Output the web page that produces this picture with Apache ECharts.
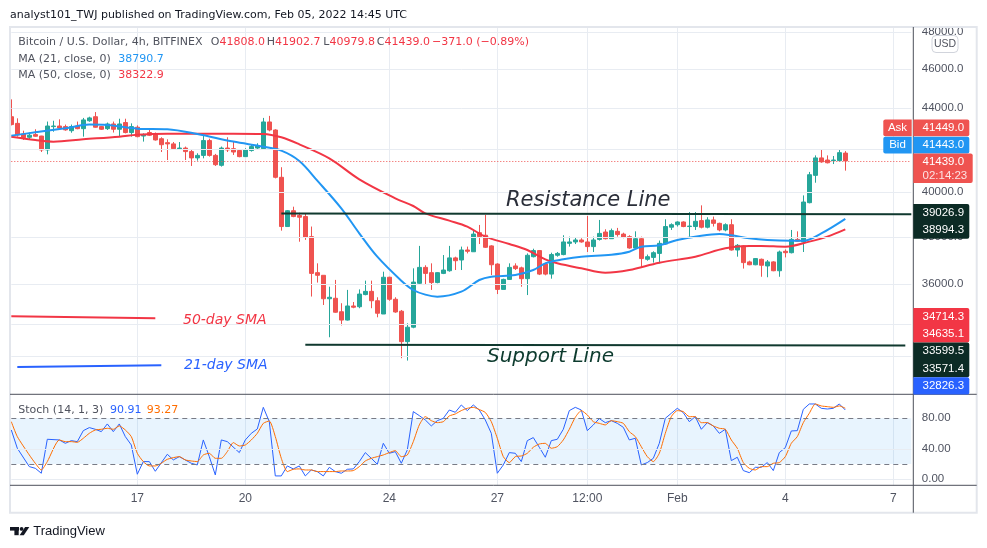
<!DOCTYPE html>
<html><head><meta charset="utf-8">
<script src="https://cdn.jsdelivr.net/npm/echarts/dist/echarts.min.js"></script>
<style>html,body{margin:0;padding:0;background:#fff}#c{width:987px;height:548px}</style>
</head><body><div id="c"></div>
<script>
// ---------- DATA ----------
// 4h candles, first one = 2022-01-13 12:00 UTC (index 0)
const candleCount = 151; // slots on the time axis (incl. empty future)
const tickIndex = [21, 39, 63, 81, 96, 111, 129, 147];
const tickText  = ['17', '20', '24', '27', '12:00', 'Feb', '4', '7'];
// [open, close, low, high]
const candles = [
[43580,43190,43150,44450],[43250,42680,42600,43500],[42730,42550,42440,42890],[42570,42670,42440,42800],
[42700,42620,42600,42960],[42630,41960,41860,42640],[41960,43120,41750,43340],[43090,43120,42840,43380],
[43120,43020,42960,43450],[43090,42930,42890,43190],[42890,43090,42790,43190],[43120,42990,42960,43340],
[42990,43420,42600,43520],[43380,43520,43330,43580],[43580,43060,43040,43810],[43090,42960,42925,43120],
[42990,43220,42925,43290],[43220,42960,42800,43340],[42960,43220,42600,43480],[43290,42800,42760,43480],
[42800,43090,42600,43250],[43060,42600,42570,43150],[42630,42700,42360,42760],[42800,42670,42630,42930],
[42730,42440,42410,42800],[42500,42210,41860,42570],[42310,42250,41480,42470],[42250,42020,41990,42340],
[42020,42050,41960,42340],[42050,41880,41480,42120],[41880,41580,41200,41990],[41580,41700,41450,41800],
[41700,42410,41560,42630],[42410,41700,41640,42500],[41700,41260,41200,41770],[41230,42050,41170,42120],
[42050,41960,41860,42570],[42020,41860,41720,42360],[41930,41640,41610,41990],[41640,41960,41640,42040],
[41930,42120,41880,42200],[42050,42150,41990,42280],[42020,43320,41990,43520],[43320,42925,42860,43620],
[42925,40670,40620,42960],[40670,38450,38270,41140],[38450,39150,38440,39180],[39150,38890,38860,39330],
[38940,38860,37790,39060],[38890,37980,37870,39030],[38010,36450,35500,38450],[36480,36370,36070,36870],
[36370,35410,35160,36370],[35410,35470,33890,35900],[35430,34870,34850,36180],[34890,34560,34350,35230],
[34560,35120,34540,35770],[35120,35070,35030,35280],[35090,35600,35030,35790],[35580,35710,35550,36150],
[35710,35330,35030,36150],[35330,34830,34670,35470],[34800,36290,34800,36520],[36290,35390,35330,36310],
[35390,34880,34850,35470],[34910,33720,33090,34960],[33720,34280,33000,34430],[34280,36090,34240,36660],
[36040,36700,36010,37610],[36700,36450,36010,36790],[36480,36070,35770,36870],[36070,36480,36040,36500],
[36450,36590,36420,37220],[36560,37100,36520,37610],[37100,36980,36590,37150],[37010,37435,36590,37580],
[37435,37380,37290,37580],[37360,38120,37350,38270],[38180,38010,37690,38520],[38070,37550,37520,38960],
[37610,36810,36380,37640],[36840,35790,35600,36870],[35790,36200,35790,36230],[36200,36700,36180,36870],
[36760,36650,36590,36870],[36680,36230,35900,36730],[36230,37210,35560,37290],[37150,37410,37120,37490],
[37410,36420,36380,37435],[36840,36420,36370,36900],[36420,37240,36230,37320],[37210,37290,37150,37350],
[37240,37780,37210,38070],[37720,37780,37580,38010],[37780,37865,37690,37990],[37865,37780,37750,37940],
[37780,37580,37350,38920],[37580,37865,37350,38010],[37890,38150,37840,38740],[38210,37920,37890,38330],
[37920,38270,37920,38360],[38240,38100,38010,38390],[38120,37980,37940,38180],[38010,37520,37490,38070],
[37520,37920,37490,38240],[37920,37070,36700,38010],[37040,37150,36980,37240],[37120,37320,36900,37380],
[37290,37720,36870,37840],[37690,38450,37660,38770],[38420,38530,38300,38590],[38530,38650,38450,38680],
[38650,38450,38420,38680],[38450,38470,38010,39090],[38450,38680,38300,39090],[38710,38420,38370,39390],
[38420,38740,38370,38860],[38740,38590,38450,38890],[38590,38300,38240,38620],[38300,38530,38240,38590],
[38530,37435,37410,38770],[37435,37635,37150,37690],[37610,36900,36650,37640],[36930,36810,36790,36980],
[36810,37070,36790,37090],[37040,36790,36310,37070],[36760,36930,36290,37010],[36930,36560,36540,36960],
[36560,37350,36310,37410],[37380,37320,37120,37460],[37320,37890,37290,38300],[37890,37810,37780,38240],
[37780,39540,37350,39840],[39510,40790,39480,40920],[40760,41580,40420,41700],[41580,41390,41350,41960],
[41480,41350,41320,41700],[41450,41480,41290,41670],[41450,41830,41420,41960],[41808,41439,40979.8,41902.7]
];
// moving averages: [candle index, value]
const ma21 = [[0,42650],[4,42810],[9,43010],[13,43190],[16,43170],[21,42990],[26,42960],[31,42730],[37,42360],
[42,42117],[45,41925],[48,41433],[51,40515],[55,39256],[58,38153],[61,37151],[65,36149],[67,35766],[69,35576],
[71,35496],[75,35697],[78,36176],[80,36314],[84,36383],[87,36591],[89,36870],[92,37039],[95,37151],[100,37236],
[103,37364],[105,37578],[108,37635],[111,37865],[115,38052],[118,38124],[120,38067],[123,37937],[126,37865],
[130,37836],[132,37836],[135,38153],[139,38790.7]];
const ma50 = [[0,42600],[4,42438],[7,42358],[12,42470],[18,42600],[21,42697],[26,42746],[31,42746],[37,42746],
[42,42730],[45,42567],[48,42229],[53,41560],[58,40577],[64,39707],[67,39361],[69,39034],[73,38709],[76,38445],
[79,38009],[83,37692],[86,37435],[89,37039],[91,36870],[95,36661],[99,36480],[103,36591],[108,36898],
[114,37151],[119,37506],[123,37606],[125,37606],[129,37578],[133,37793],[136,38009],[139,38322.9]];
const stochK = [[0,64.7],[1,40.7],[3,16.6],[4,14.4],[5,7.9],[6,52.5],[8,51.6],[9,47.2],[10,50.7],[11,49.4],[12,63.8],
[13,67.8],[14,65.6],[15,62.5],[16,72.6],[17,62.5],[18,72.6],[19,56.0],[20,45.0],[21,6.6],[22,23.2],[23,23.2],[24,10.5],
[26,32.8],[27,25.4],[28,29.7],[30,21.0],[31,18.8],[32,51.6],[33,29.7],[34,5.7],[35,51.6],[36,49.4],[38,35.0],[39,51.6],
[40,60.3],[41,66.0],[42,94.4],[43,75.6],[44,4.4],[45,4.4],[46,17.5],[47,13.6],[48,17.5],[49,4.4],[50,12.2],[51,10.1],
[52,4.4],[53,15.7],[54,10.1],[55,7.9],[56,13.1],[57,13.6],[58,23.2],[59,35.0],[60,27.5],[61,19.7],[62,47.2],[63,34.1],
[64,36.3],[65,21.0],[66,38.5],[67,88.8],[68,83.5],[69,77.8],[70,70.0],[71,76.9],[72,80.0],[73,90.9],[74,87.9],[75,97.5],
[76,90.1],[77,97.5],[78,90.9],[79,77.8],[80,60.3],[81,7.9],[82,18.8],[83,35.0],[84,34.1],[85,23.2],[86,50.7],[87,54.7],
[88,42.0],[89,28.9],[90,50.7],[91,52.5],[92,65.6],[93,90.1],[94,94.4],[95,90.9],[96,63.8],[97,71.3],[98,79.6],[99,74.3],
[100,76.9],[101,73.4],[102,68.2],[103,51.6],[104,53.8],[105,18.8],[106,21.9],[107,27.5],[108,47.2],[109,80.0],[110,86.6],
[111,93.1],[112,87.4],[113,75.6],[114,82.2],[115,65.6],[116,74.3],[117,70.0],[118,60.3],[119,65.6],[120,24.5],[121,28.9],
[122,11.4],[123,8.7],[124,15.7],[125,15.7],[126,21.9],[127,11.4],[128,35.0],[129,41.5],[130,63.4],[131,63.8],[132,91.8],
[133,98.8],[134,98.8],[135,93.1],[136,92.2],[137,93.1],[138,98.8],[139,90.91]];
const stochD = [[0,75.6],[1,56.0],[3,31.9],[4,21.0],[5,12.2],[6,23.2],[8,51.6],[9,49.4],[10,49.4],[11,48.5],[12,53.8],
[13,60.3],[14,64.7],[15,65.6],[16,66.9],[17,65.6],[18,70.0],[19,64.7],[20,56.0],[21,34.1],[22,23.2],[23,17.5],[24,17.5],
[25,21.0],[26,26.2],[28,29.7],[29,25.4],[30,24.0],[31,23.2],[32,31.9],[33,34.1],[34,27.5],[35,27.5],[36,36.3],[37,48.1],
[38,43.7],[39,45.0],[40,51.6],[41,60.3],[42,73.4],[43,76.5],[44,56.0],[45,27.5],[46,10.1],[47,13.1],[48,13.6],[49,12.2],
[50,12.2],[51,10.1],[52,10.1],[54,10.1],[55,10.9],[56,10.9],[57,11.4],[58,16.6],[59,24.0],[60,27.5],[61,29.7],[62,31.9],
[63,35.0],[64,37.6],[65,29.7],[66,31.9],[67,49.4],[68,71.3],[69,82.2],[70,76.9],[71,74.3],[72,75.6],[73,83.1],[74,85.7],
[75,90.1],[76,93.1],[77,94.4],[78,91.5],[79,87.7],[80,75.6],[81,53.8],[82,29.7],[83,21.9],[84,29.7],[85,30.6],[86,34.1],
[87,42.0],[88,46.3],[89,47.2],[90,40.7],[91,42.8],[92,51.6],[93,65.6],[94,81.3],[95,90.1],[96,84.4],[97,75.6],[98,73.4],
[99,71.3],[100,76.9],[101,75.6],[102,73.4],[103,62.5],[104,56.0],[105,42.8],[106,29.7],[107,23.2],[108,34.1],[109,60.3],
[110,82.2],[111,90.1],[112,88.8],[113,82.2],[114,82.2],[115,74.3],[116,74.3],[117,70.0],[118,66.9],[119,65.6],[120,51.6],
[121,40.7],[122,21.9],[123,14.4],[124,12.2],[125,16.6],[126,16.6],[127,21.0],[128,21.9],[129,29.7],[130,47.2],[131,56.0],
[132,74.3],[133,86.6],[134,98.8],[135,96.2],[136,95.3],[137,94.4],[138,96.2],[139,93.27]];
// price axis grid values (log scale) and which ones carry a label
const priceGrid = [33147, 34395, 36000, 38000, 40000, 42000, 44000, 46000, 48000];
const priceLabelled = [36000, 38000, 40000, 42000, 44000, 46000, 48000];
const stochGrid = [0, 40];
const stochLevels = [20, 80];
const stochLabelled = [0, 40, 80];
// drawings (trend lines): [startIndex, startPrice, endIndex, endPrice]
const resistanceLine = [45, 39026.9, 150, 38994.3];
const supportLine = [49, 33599.5, 149, 33571.4];
const sma50Key = [0, 34714.3, 24, 34635.1];
const sma21Key = [1, 32760, 25, 32826.3];
const lastPrice = 41439.0;

// ---------- CHART ----------
const categories = [];
const t0 = Date.UTC(2022, 0, 13, 12);
for (let i = 0; i < candleCount; i++) {
  categories.push(new Date(t0 + i * 4 * 3600e3).toISOString().slice(0, 16).replace('T', ' '));
}
const tickMap = {}; tickIndex.forEach((k, j) => tickMap[k] = tickText[j]);
const isTick = (i) => tickMap[i] !== undefined;

const gridColor = '#e8ecf2';
const axisText = '#4f5360';
const UP = '#26a69a', DOWN = '#ef5350';
const AX_FONT = '"Liberation Sans", Arial, sans-serif';
const TV_FONT = '"DejaVu Sans", Verdana, sans-serif';

const chart = echarts.init(document.getElementById('c'), null, {renderer: 'canvas'});

function seg(d, color, width) {
  return [{coord: [d[0], d[1]], lineStyle: {color, width, type: 'solid'}},
          {coord: [d[2], d[3]], lineStyle: {color, width, type: 'solid'}}];
}

const option = {
  animation: false,
  backgroundColor: '#ffffff',
  grid: [
    {left: 11.3, width: 900, top: 27, height: 367.3},
    {left: 11.3, width: 900, top: 394.3, height: 91}
  ],
  xAxis: [
    {type: 'category', gridIndex: 0, data: categories, boundaryGap: false,
     axisLine: {show: false}, axisTick: {show: false}, axisLabel: {show: false},
     splitLine: {show: true, interval: (i) => isTick(i), lineStyle: {color: gridColor, width: 1}}},
    {type: 'category', gridIndex: 1, data: categories, boundaryGap: false,
     axisLine: {show: false}, axisTick: {show: false},
     axisLabel: {show: true, interval: (i) => isTick(i), formatter: (v, i) => tickMap[i] || '',
                 margin: 7, color: axisText, fontSize: 12, fontFamily: AX_FONT},
     splitLine: {show: true, interval: (i) => isTick(i), lineStyle: {color: gridColor, width: 1}}}
  ],
  yAxis: [
    {type: 'log', logBase: 10, gridIndex: 0, min: 31755, max: 48274, position: 'right',
     axisLine: {show: false}, axisTick: {show: false}, axisLabel: {show: false}, splitLine: {show: false}},
    {type: 'value', gridIndex: 1, min: -7.9, max: 111.5, position: 'right',
     axisLine: {show: false}, axisTick: {show: false}, axisLabel: {show: false}, splitLine: {show: false}}
  ],
  series: [
    { // price grid lines + price labels
      type: 'line', xAxisIndex: 0, yAxisIndex: 0, data: [], z: 1, silent: true,
      markLine: {
        silent: true, symbol: ['none', 'none'], animation: false,
        lineStyle: {color: gridColor, width: 1, type: 'solid'},
        label: {show: true, position: 'end', distance: 10.5, color: axisText, fontSize: 11.5, fontFamily: AX_FONT},
        data: priceGrid.map(v => ({yAxis: v, label: {formatter: priceLabelled.includes(v) ? v.toFixed(1) : ''}}))
      }
    },
    {
      type: 'candlestick', xAxisIndex: 0, yAxisIndex: 0, data: candles, barWidth: 4, z: 3,
      itemStyle: {color: UP, color0: DOWN, borderColor: UP, borderColor0: DOWN, borderWidth: 1},
      markLine: {
        silent: true, symbol: ['none', 'none'], animation: false, label: {show: false},
        data: [
          [{yAxis: lastPrice, lineStyle: {color: DOWN, width: 1, type: [1, 2]}},
           {yAxis: lastPrice, x: 911.3, lineStyle: {color: DOWN, width: 1, type: [1, 2]}}].slice(0, 1)[0],
          seg(resistanceLine, '#10392f', 2),
          seg(supportLine, '#10392f', 2),
          seg(sma50Key, '#f23645', 2),
          seg(sma21Key, '#2962ff', 2)
        ]
      }
    },
    {type: 'line', name: 'MA50', xAxisIndex: 0, yAxisIndex: 0, data: ma50, smooth: 0.35, showSymbol: false,
     lineStyle: {color: '#f23645', width: 2}, z: 4},
    {type: 'line', name: 'MA21', xAxisIndex: 0, yAxisIndex: 0, data: ma21, smooth: 0.35, showSymbol: false,
     lineStyle: {color: '#2196f3', width: 2}, z: 4},
    { // stoch pane grid, levels, band, labels
      type: 'line', xAxisIndex: 1, yAxisIndex: 1, data: [], z: 1, silent: true,
      markArea: {silent: true, itemStyle: {color: 'rgba(33,150,243,0.1)'},
                 data: [[{yAxis: stochLevels[0]}, {yAxis: stochLevels[1]}]]},
      markLine: {
        silent: true, symbol: ['none', 'none'], animation: false,
        label: {show: true, position: 'end', distance: 10.5, color: axisText, fontSize: 11.5, fontFamily: AX_FONT},
        data: stochGrid.map(v => ({yAxis: v, lineStyle: {color: gridColor, width: 1, type: 'solid'},
                                   label: {formatter: stochLabelled.includes(v) ? v.toFixed(2) : ''}}))
          .concat(stochLevels.map(v => ({yAxis: v, lineStyle: {color: '#787b86', width: 1, type: [5, 4]},
                                   label: {formatter: stochLabelled.includes(v) ? v.toFixed(2) : ''}})))
      }
    },
    {type: 'line', name: '%K', xAxisIndex: 1, yAxisIndex: 1, data: stochK, showSymbol: false,
     lineStyle: {color: '#2962ff', width: 1}, z: 3},
    {type: 'line', name: '%D', xAxisIndex: 1, yAxisIndex: 1, data: stochD, showSymbol: false, smooth: 0.2,
     lineStyle: {color: '#ff6d00', width: 1}, z: 3}
  ]
};

// ---------- decorations ----------
function txt(text, x, y, fill, font, align) {
  return {type: 'text', silent: true, z: 50, style: {text, x, y, fill, font, align: align || 'left', verticalAlign: 'middle'}};
}
function box(x, y, w, h, fill, r) {
  return {type: 'rect', silent: true, z: 60, shape: {x, y, width: w, height: h, r: r || [0, 2, 2, 0]}, style: {fill}};
}
function boxText(text, x, y, fill) {
  return {type: 'text', silent: true, z: 61, style: {text, x, y, fill: fill || '#ffffff', font: '11.5px ' + AX_FONT, align: 'left', verticalAlign: 'middle'}};
}
const f11 = '11px ' + TV_FONT;
const gray = '#50535e';
const RED = '#f23645';
const graphics = [
  // frame & pane separators
  {type: 'rect', silent: true, z: 40, shape: {x: 10, y: 27, width: 966.7, height: 485.7}, style: {fill: 'none', stroke: '#e3e6ec', lineWidth: 2}},
  {type: 'line', silent: true, z: 41, shape: {x1: 913.3, y1: 27, x2: 913.3, y2: 512.7}, style: {stroke: '#4d505b', lineWidth: 1}},
  {type: 'line', silent: true, z: 41, shape: {x1: 10, y1: 394.3, x2: 976.7, y2: 394.3}, style: {stroke: '#4d505b', lineWidth: 1}},
  {type: 'line', silent: true, z: 41, shape: {x1: 10, y1: 485.3, x2: 976.7, y2: 485.3}, style: {stroke: '#4d505b', lineWidth: 1}},
  // title + legends
  txt('analyst101_TWJ published on TradingView.com, Feb 05, 2022 14:45 UTC', 10, 15, '#131722', f11),
  txt('Bitcoin / U.S. Dollar, 4h, BITFINEX', 18.3, 42.5, gray, f11),
  txt('O', 210.7, 42.5, gray, f11), txt('41808.0', 219.5, 42.5, RED, f11),
  txt('H', 266.7, 42.5, gray, f11), txt('41902.7', 275, 42.5, RED, f11),
  txt('L', 323.3, 42.5, gray, f11), txt('40979.8', 329.5, 42.5, RED, f11),
  txt('C', 376.7, 42.5, gray, f11), txt('41439.0', 384.4, 42.5, RED, f11),
  txt('\u2212371.0 (\u22120.89%)', 432, 42.5, RED, f11),
  txt('MA (21, close, 0)', 18.3, 59.5, gray, f11), txt('38790.7', 118.3, 59.5, '#2196f3', f11),
  txt('MA (50, close, 0)', 18.3, 75.5, gray, f11), txt('38322.9', 118.3, 75.5, RED, f11),
  txt('Stoch (14, 1, 3)', 18.3, 410, gray, f11), txt('90.91', 110, 410, '#2962ff', f11), txt('93.27', 146.7, 410, '#ff6d00', f11),
  // drawing texts
  txt('Resistance Line', 506, 201, '#2a2e39', 'italic 21px ' + TV_FONT),
  txt('Support Line', 487, 356.5, '#0d3b2e', 'italic 20px ' + TV_FONT),
  txt('50-day SMA', 183, 320, RED, 'italic 14px ' + TV_FONT),
  txt('21-day SMA', 184, 365, '#2962ff', 'italic 14px ' + TV_FONT),
  // USD badge
  {type: 'rect', silent: true, z: 60, shape: {x: 932, y: 35.5, width: 26, height: 17, r: 4}, style: {fill: '#ffffff', stroke: '#d1d4dc', lineWidth: 1}},
  {type: 'text', silent: true, z: 61, style: {text: 'USD', x: 945, y: 44.5, fill: gray, font: '10.5px ' + AX_FONT, align: 'center', verticalAlign: 'middle'}},
  // ask / bid / last
  box(883.3, 119.5, 28.4, 16.8, '#ef5350', [2, 0, 0, 2]),
  {type: 'text', silent: true, z: 61, style: {text: 'Ask', x: 897.5, y: 128, fill: '#fff', font: '11.5px ' + AX_FONT, align: 'center', verticalAlign: 'middle'}},
  box(913.3, 119.5, 56, 16.8, '#ef5350'), boxText('41449.0', 922.5, 128),
  box(883.3, 136.8, 28.4, 16.8, '#2196f3', [2, 0, 0, 2]),
  {type: 'text', silent: true, z: 61, style: {text: 'Bid', x: 897.5, y: 145, fill: '#fff', font: '11.5px ' + AX_FONT, align: 'center', verticalAlign: 'middle'}},
  box(913.3, 136.8, 56, 16.8, '#2196f3'), boxText('41443.0', 922.5, 145),
  box(913.3, 153.6, 59.4, 29.4, '#ef5350'), boxText('41439.0', 922.5, 161.7), boxText('02:14:23', 922.5, 175.7, '#fde3e3'),
  // resistance labels
  box(913.3, 204.1, 56, 34.6, '#0c2b25'), boxText('39026.9', 922.5, 212.7), boxText('38994.3', 922.5, 230),
  // 50-day key labels
  box(913.3, 308, 56, 34.6, RED), boxText('34714.3', 922.5, 316.7), boxText('34635.1', 922.5, 334),
  // support labels
  box(913.3, 342.6, 56, 34.6, '#0c2b25'), boxText('33599.5', 922.5, 351.2), boxText('33571.4', 922.5, 368.5),
  // 21-day key label
  box(913.3, 377.2, 56, 17.2, '#2962ff'), boxText('32826.3', 922.5, 386),
  // TradingView logo
  {type: 'rect', silent: true, z: 50, shape: {x: 10, y: 527, width: 9, height: 3.6}, style: {fill: '#131722'}},
  {type: 'rect', silent: true, z: 50, shape: {x: 14.4, y: 527, width: 4.3, height: 8.2}, style: {fill: '#131722'}},
  {type: 'circle', silent: true, z: 50, shape: {cx: 21.6, cy: 528.9, r: 1.9}, style: {fill: '#131722'}},
  {type: 'polygon', silent: true, z: 50, shape: {points: [[19.6, 535.2], [23.8, 535.2], [29.3, 527], [25.1, 527]]}, style: {fill: '#131722'}},
  txt('TradingView', 33.3, 531, '#131722', '13px ' + AX_FONT)
];
option.graphic = graphics;
chart.setOption(option);
</script></body></html>
